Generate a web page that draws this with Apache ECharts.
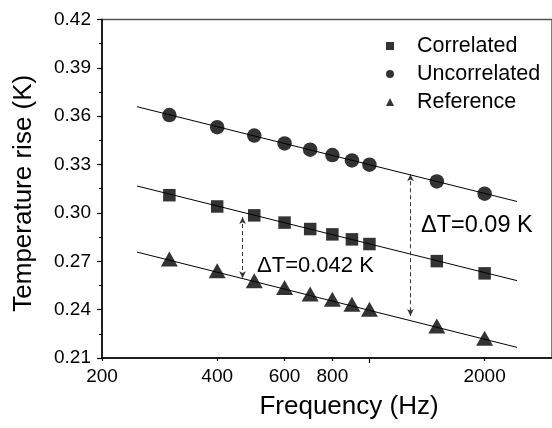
<!DOCTYPE html>
<html><head><meta charset="utf-8">
<script src="https://cdn.jsdelivr.net/npm/echarts@6/dist/echarts.min.js"></script>
<style>html,body{margin:0;padding:0;background:#fff}#c{width:552px;height:428px}</style>
</head><body><div id="c"></div>
<script>
const frequencies = [300, 400, 500, 600, 700, 800, 900, 1000, 1500, 2000];
const correlated = [0.311, 0.304, 0.2985, 0.294, 0.290, 0.2867, 0.2836, 0.2807, 0.2701, 0.2625];
const uncorrelated = [0.3607, 0.3532, 0.348, 0.3431, 0.3392, 0.3359, 0.3326, 0.3299, 0.3195, 0.3119];
const reference = [0.2714, 0.2642, 0.258, 0.2538, 0.2497, 0.2464, 0.2433, 0.2402, 0.2298, 0.2222];
const fitFreq = [247, 2430];
const fitCorrelated = [0.3167, 0.2580];
const fitUncorrelated = [0.3659, 0.3071];
const fitReference = [0.2757, 0.2166];
const arrowFreqs = [466, 1280];
const arrowTops = [0.2975, 0.324];
const arrowBottoms = [0.2595, 0.236];
const annotations = ['\u0394T=0.042 K', '\u0394T=0.09 K'];
const xLabelValues = [200, 400, 600, 800, 2000];
const xMajorTicks = [1000];
const seriesNames = ['Correlated', 'Uncorrelated', 'Reference'];

const FONT = "'Liberation Sans', Arial, Helvetica, sans-serif";
const pairs = (xs, ys) => xs.map((x, i) => [x, ys[i]]);

const chart = echarts.init(document.getElementById('c'), null, {renderer: 'canvas'});
const markerSymbols = ['rect', 'circle', 'triangle'];
const markerSizes = [12.5, 14.5, [17, 15]];
const valueSets = [correlated, uncorrelated, reference];
const fitSets = [fitCorrelated, fitUncorrelated, fitReference];

const series = [];
seriesNames.forEach((n, i) => {
  series.push({
    name: n, type: 'scatter', symbol: markerSymbols[i], symbolSize: markerSizes[i],
    itemStyle: {color: '#000'}, data: pairs(frequencies, valueSets[i]), z: 5
  });
});
fitSets.forEach((f, i) => {
  series.push({
    name: 'fit' + i, type: 'line', showSymbol: false, symbol: 'none',
    lineStyle: {color: '#000', width: 1}, data: pairs(fitFreq, f), z: 3
  });
});
series.push({
  name: 'arrows', type: 'line', data: [], symbol: 'none',
  markLine: {
    silent: true, symbol: ['arrow', 'arrow'], symbolSize: [5, 7],
    label: {show: false},
    lineStyle: {color: '#333', width: 1, type: [4, 3]},
    data: arrowFreqs.map((f, i) => [{coord: [f, arrowTops[i]]}, {coord: [f, arrowBottoms[i]]}])
  }
});

chart.setOption({
  animation: false,
  grid: {left: 102, top: 19.5, width: 456, bottom: 70, show: true, borderColor: '#555', borderWidth: 1.5},
  legend: {
    data: seriesNames.map((n, i) => ({name: n, icon: markerSymbols[i]})),
    orient: 'vertical', left: 381, top: 30, itemWidth: 8, itemHeight: 8, itemGap: 6,
    textStyle: {fontSize: 21.5, fontFamily: FONT, color: '#000', padding: [0, 0, 0, 18]},
    itemStyle: {color: '#000'}
  },
  xAxis: [{
    type: 'log', logBase: 10, min: 200, max: 3000, position: 'bottom',
    axisLine: {show: true, lineStyle: {color: '#000', width: 1.5}},
    axisTick: {show: true, inside: false, length: 3, customValues: xLabelValues, lineStyle: {color: '#000', width: 1.2}},
    minorTick: {show: false}, splitLine: {show: false},
    axisLabel: {customValues: xLabelValues, fontSize: 19, fontFamily: FONT, color: '#000', margin: 9, formatter: v => String(Math.round(v))},
    name: 'Frequency (Hz)', nameLocation: 'middle', nameGap: 36,
    nameTextStyle: {fontSize: 26, fontFamily: FONT, color: '#000', padding: [0, 0, 0, 44]}
  }, {
    type: 'log', logBase: 10, min: 200, max: 3000, position: 'bottom', offset: 0,
    axisLine: {show: false},
    axisTick: {show: true, inside: false, length: 5, customValues: xMajorTicks, lineStyle: {color: '#000', width: 1.2}},
    axisLabel: {show: false}, splitLine: {show: false}
  }],
  yAxis: {
    type: 'value', min: 0.21, max: 0.42, interval: 0.03,
    axisLine: {show: true, lineStyle: {color: '#000', width: 1.5}},
    axisTick: {show: true, inside: false, length: 5, lineStyle: {color: '#000', width: 1.2}},
    minorTick: {show: true, splitNumber: 2, length: 3, lineStyle: {color: '#000', width: 1}},
    splitLine: {show: false},
    axisLabel: {fontSize: 19, fontFamily: FONT, color: '#000', margin: 11, formatter: v => v.toFixed(2)},
    name: 'Temperature rise (K)', nameLocation: 'middle', nameGap: 65,
    nameTextStyle: {fontSize: 26, fontFamily: FONT, color: '#000', padding: [0, 9, 0, 0]}
  },
  graphic: [
    {type: 'text', left: 257, top: 255, style: {text: annotations[0], font: '22px ' + FONT, fill: '#000'}},
    {type: 'text', left: 421, top: 214, style: {text: annotations[1], font: '23.5px ' + FONT, fill: '#000'}}
  ],
  series: series
});
</script></body></html>
